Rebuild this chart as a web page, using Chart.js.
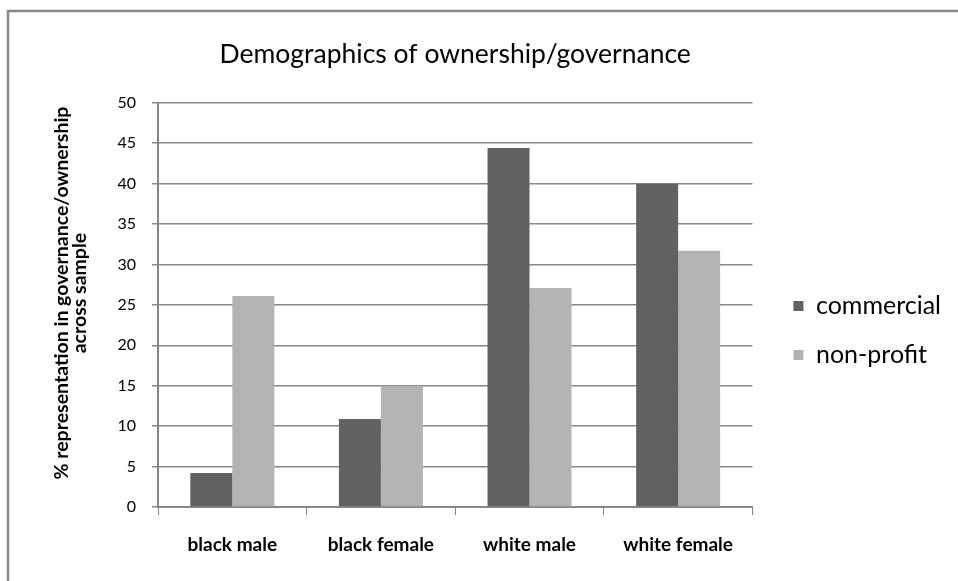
<!DOCTYPE html>
<html>
<head>
<meta charset="utf-8">
<title>Demographics of ownership/governance</title>
<script src="https://cdn.jsdelivr.net/npm/chart.js@4.4.1/dist/chart.umd.min.js"></script>
<style>
  html, body { margin: 0; padding: 0; background: #fff; }
  #wrap { position: relative; width: 958px; height: 581px; overflow: hidden; }
</style>
</head>
<body>
<div id="wrap"><canvas id="chart"></canvas></div>
<script>
'use strict';

var categories = ['black male', 'black female', 'white male', 'white female'];
var commercial = [4.2, 10.9, 44.4, 40.0];
var nonProfit = [26.1, 15.0, 27.1, 31.7];
var yMin = 0, yMax = 50, yStep = 5;
var yTitle = ['     % representation in governance/ownership', '     across sample'];

var gridColor = '#878787';
var font = 'Lato';

// grey outline around the whole chart, cut off at the right and bottom
var framePlugin = {
  id: 'frame',
  beforeDraw: function (chart) {
    var ctx = chart.ctx;
    ctx.save();
    ctx.fillStyle = '#fff';
    ctx.fillRect(0, 0, chart.width, chart.height);
    ctx.strokeStyle = '#8a8a8a';
    ctx.lineWidth = 2.5;
    ctx.strokeRect(8, 11, chart.width + 20, chart.height + 20);
    ctx.restore();
  }
};

var ctx = document.getElementById('chart');

new Chart(ctx, {
  type: 'bar',
  data: {
    labels: categories,
    datasets: [{
      label: 'commercial',
      data: commercial,
      backgroundColor: '#616161'
    }, {
      label: 'non-profit',
      data: nonProfit,
      backgroundColor: '#b3b3b3'
    }]
  },
  options: {
    responsive: true,
    maintainAspectRatio: false,
    animation: false,
    layout: { padding: { left: 0, top: 0, right: 7, bottom: 0 } },
    datasets: {
      bar: { categoryPercentage: 0.565, barPercentage: 1.0 }
    },
    plugins: {
      title: {
        display: true,
        fullSize: false,
        text: 'Demographics of ownership/governance',
        color: '#000',
        font: { family: font, size: 26.5, weight: 'normal' },
        padding: { top: 39, bottom: 32 }
      },
      legend: {
        position: 'right',
        maxWidth: 220,
        title: {
          display: true,
          text: ' ',
          font: { family: font, size: 10 },
          padding: 34
        },
        labels: {
          color: '#000',
          font: { family: font, size: 25 },
          boxWidth: 10,
          boxHeight: 10,
          padding: 24
        }
      },
      tooltip: { enabled: false }
    },
    scales: {
      x: {
        offset: true,
        grid: {
          offset: true,
          drawOnChartArea: false,
          drawTicks: true,
          tickLength: 8,
          color: gridColor
        },
        border: { display: true, color: gridColor, width: 2 },
        ticks: {
          color: '#000',
          padding: 18,
          font: { family: font, size: 19, weight: 'bold' }
        },
        afterFit: function (scale) { scale.height = 74; }
      },
      y: {
        min: yMin,
        max: yMax,
        grid: {
          color: gridColor,
          lineWidth: 1.5,
          tickLength: 6
        },
        border: { display: true, color: gridColor, width: 2 },
        ticks: {
          stepSize: yStep,
          color: '#000',
          padding: 16,
          font: { family: font, size: 16 }
        },
        title: {
          display: true,
          text: yTitle,
          color: '#000',
          font: { family: font, size: 19.5, weight: 'bold', lineHeight: '18px' },
          padding: { top: 53, bottom: 0 }
        },
        afterFit: function (scale) { scale.width = 158; }
      },
      // empty strip between the plot and the legend
      gap: {
        position: 'right',
        display: true,
        grid: { display: false },
        border: { display: false },
        ticks: { display: false },
        afterFit: function (scale) { scale.width = 17; }
      }
    }
  },
  plugins: [framePlugin]
});
</script>
</body>
</html>
